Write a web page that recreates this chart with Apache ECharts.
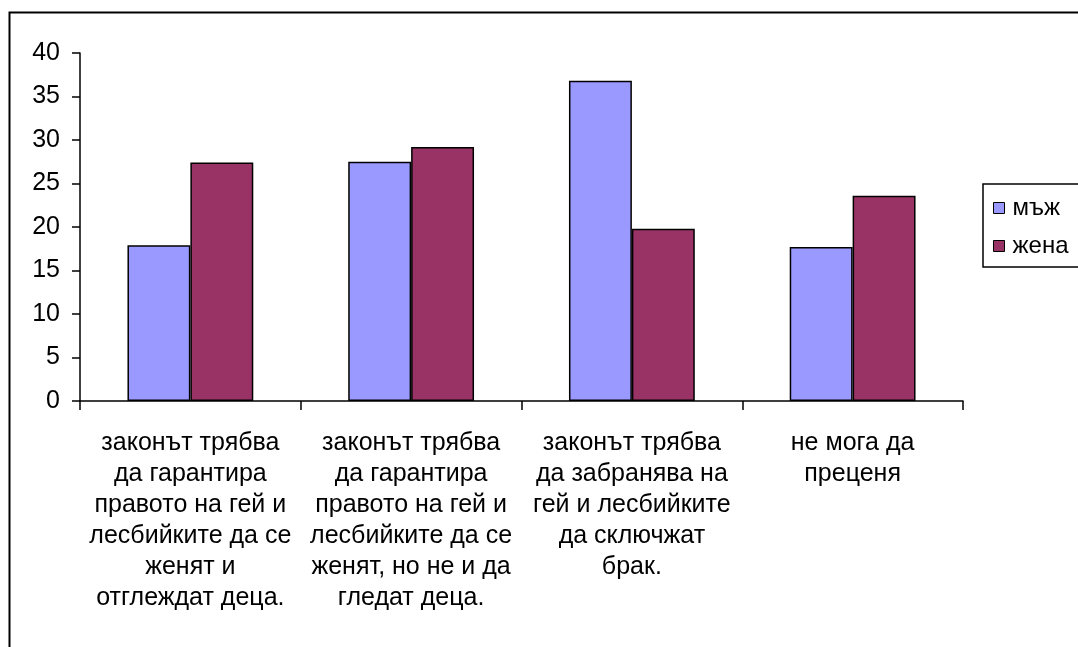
<!DOCTYPE html>
<html>
<head>
<meta charset="utf-8">
<script src="https://cdn.jsdelivr.net/npm/echarts@6/dist/echarts.min.js"></script>
<style>
html,body{margin:0;padding:0;background:#fff;}
#container{width:1078px;height:647px;}
</style>
</head>
<body>
<div id="container"></div>
<script>
var categories = [
    'законът трябва\nда гарантира\nправото на гей и\nлесбийките да се\nженят и\nотглеждат деца.',
    'законът трябва\nда гарантира\nправото на гей и\nлесбийките да се\nженят, но не и да\nгледат деца.',
    'законът трябва\nда забранява на\nгей и лесбийките\nда сключжат\nбрак.',
    'не мога да\nпреценя'
];
var seriesNames = ['мъж', 'жена'];
var male = [17.9, 27.5, 36.8, 17.7];
var female = [27.4, 29.2, 19.8, 23.6];
var yTicks = { min: 0, max: 40, interval: 5 };

var font = '"Liberation Sans", Arial, sans-serif';
var myChart = echarts.init(document.getElementById('container'));
var option = {
    backgroundColor: '#fff',
    animation: false,
    textStyle: { fontFamily: font, color: '#000' },
    graphic: [{
        type: 'rect',
        left: 7, top: 10,
        shape: { width: 1100, height: 700 },
        style: { fill: 'none', stroke: '#000', lineWidth: 2 },
        silent: true
    }],
    grid: { left: 80, right: 115, top: 53, bottom: 246 },
    legend: {
        data: seriesNames,
        orient: 'vertical',
        left: 983, top: 184,
        padding: [12, 12, 9, 10],
        itemWidth: 11, itemHeight: 11,
        itemGap: 14,
        borderColor: '#000', borderWidth: 1.5,
        textStyle: { fontFamily: font, fontSize: 24, color: '#000', padding: [0, 0, 0, 3] },
        icon: 'rect',
        itemStyle: { borderColor: '#000', borderWidth: 1 }
    },
    xAxis: [{
        type: 'category',
        data: categories,
        axisLine: { lineStyle: { color: '#000', width: 1.5 } },
        axisTick: { show: true, length: 9, lineStyle: { color: '#000', width: 1.5 } },
        axisLabel: {
            interval: 0, margin: 27, color: '#000',
            fontFamily: font, fontSize: 25, lineHeight: 31, align: 'center'
        }
    }],
    yAxis: [{
        type: 'value',
        min: yTicks.min, max: yTicks.max, interval: yTicks.interval,
        axisLine: { show: true, lineStyle: { color: '#000', width: 1.5 } },
        axisTick: { show: true, length: 8, lineStyle: { color: '#000', width: 1.5 } },
        axisLabel: { margin: 20, color: '#000', fontFamily: font, fontSize: 25 },
        splitLine: { show: false }
    }],
    series: [{
        name: seriesNames[0],
        type: 'bar',
        data: male,
        barGap: '0%',
        barCategoryGap: '43%',
        itemStyle: { color: '#9999FF', borderColor: '#000', borderWidth: 1.5 }
    }, {
        name: seriesNames[1],
        type: 'bar',
        data: female,
        itemStyle: { color: '#993366', borderColor: '#000', borderWidth: 1.5 }
    }]
};
myChart.setOption(option);
</script>
</body>
</html>
